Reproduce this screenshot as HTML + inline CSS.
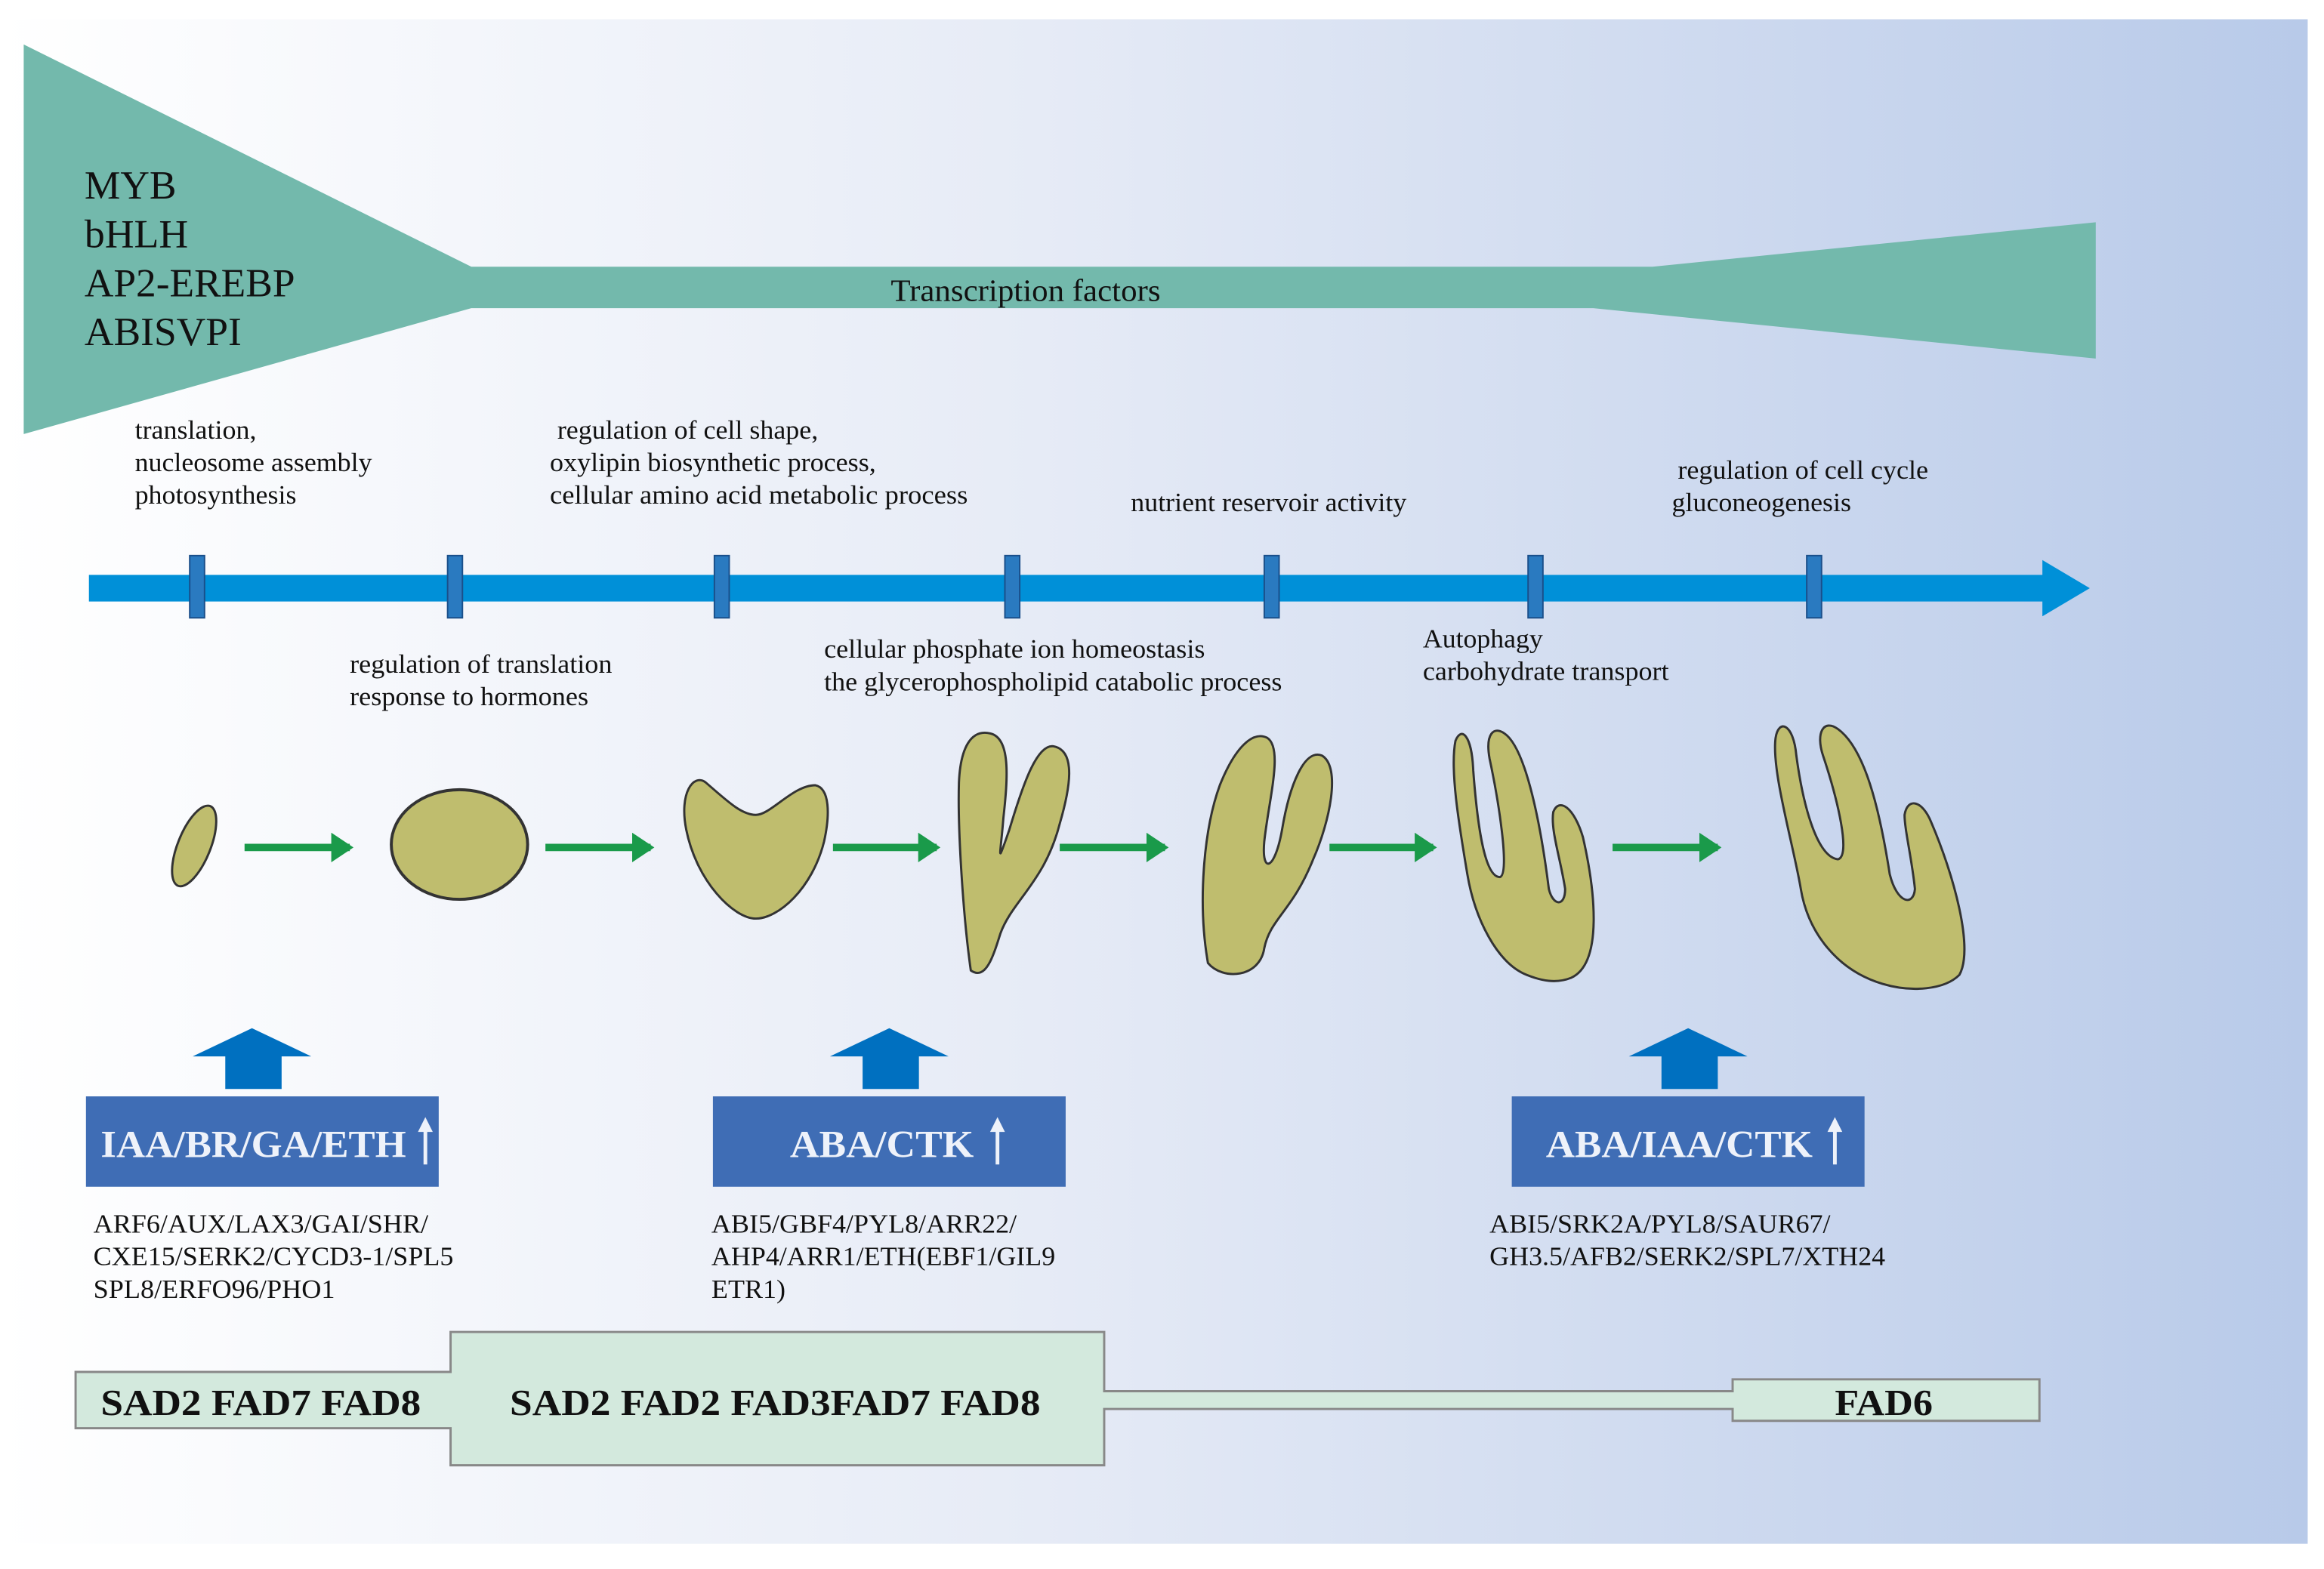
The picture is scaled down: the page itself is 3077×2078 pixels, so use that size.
<!DOCTYPE html>
<html><head><meta charset="utf-8"><style>
html,body{margin:0;padding:0;background:#fff;}
svg{display:block;}
text{font-family:"Liberation Serif","Times New Roman",serif;}
</style></head><body>
<svg width="3077" height="2078" viewBox="0 0 1568 1059" preserveAspectRatio="none" xmlns="http://www.w3.org/2000/svg">
<defs>
<linearGradient id="bg" x1="0" y1="0" x2="1" y2="0">
<stop offset="0" stop-color="#ffffff"/>
<stop offset="0.45" stop-color="#e6ebf6"/>
<stop offset="1" stop-color="#b8cae9"/>
</linearGradient>
<marker id="ga" markerWidth="4" markerHeight="4" refX="2.5" refY="2" orient="auto" markerUnits="strokeWidth">
<path d="M0,0 L3,2 L0,4 Z" fill="#1a9a4a"/>
</marker>
</defs>
<rect x="0" y="13" width="1557" height="1029" fill="url(#bg)"/>
<polygon points="16,30 318,180 1115,180 1414,150 1414,242 1075,208 318,208 16,293" fill="#73b9ac"/>
<g font-size="27" fill="#111" lengthAdjust="spacingAndGlyphs">
<text x="57" y="134" textLength="62" lengthAdjust="spacingAndGlyphs">MYB</text>
<text x="57" y="167" textLength="70" lengthAdjust="spacingAndGlyphs">bHLH</text>
<text x="57" y="200" textLength="142" lengthAdjust="spacingAndGlyphs">AP2-EREBP</text>
<text x="57" y="233" textLength="106" lengthAdjust="spacingAndGlyphs">ABISVPI</text>
</g>
<text x="601" y="203" font-size="21" fill="#111" textLength="182" lengthAdjust="spacingAndGlyphs">Transcription factors</text>

<g font-size="18" fill="#111">
<text x="91" y="296" textLength="82" lengthAdjust="spacingAndGlyphs">translation,</text>
<text x="91" y="318" textLength="160" lengthAdjust="spacingAndGlyphs">nucleosome assembly</text>
<text x="91" y="340" textLength="109" lengthAdjust="spacingAndGlyphs">photosynthesis</text>
<text x="376" y="296" textLength="176" lengthAdjust="spacingAndGlyphs">regulation of cell shape,</text>
<text x="371" y="318" textLength="220" lengthAdjust="spacingAndGlyphs">oxylipin biosynthetic process,</text>
<text x="371" y="340" textLength="282" lengthAdjust="spacingAndGlyphs">cellular amino acid metabolic  process</text>
<text x="763" y="345" textLength="186" lengthAdjust="spacingAndGlyphs">nutrient reservoir activity</text>
<text x="1132" y="323" textLength="169" lengthAdjust="spacingAndGlyphs">regulation of cell cycle</text>
<text x="1128" y="345" textLength="121" lengthAdjust="spacingAndGlyphs">gluconeogenesis</text>
<text x="236" y="454" textLength="177" lengthAdjust="spacingAndGlyphs">regulation of translation</text>
<text x="236" y="476" textLength="161" lengthAdjust="spacingAndGlyphs">response to hormones</text>
<text x="556" y="444" textLength="257" lengthAdjust="spacingAndGlyphs">cellular phosphate ion homeostasis</text>
<text x="556" y="466" textLength="309" lengthAdjust="spacingAndGlyphs">the glycerophospholipid catabolic process</text>
<text x="960" y="437" textLength="81" lengthAdjust="spacingAndGlyphs">Autophagy</text>
<text x="960" y="459" textLength="166" lengthAdjust="spacingAndGlyphs">carbohydrate transport</text>
</g>

<polygon points="60,388 1378,388 1378,378 1410,397 1378,416 1378,406 60,406" fill="#0090d8"/>
<g fill="#2a7ac0" stroke="#1a4f8a" stroke-width="1">
<rect x="128" y="375" width="10" height="42"/>
<rect x="302" y="375" width="10" height="42"/>
<rect x="482" y="375" width="10" height="42"/>
<rect x="678" y="375" width="10" height="42"/>
<rect x="853" y="375" width="10" height="42"/>
<rect x="1031" y="375" width="10" height="42"/>
<rect x="1219" y="375" width="10" height="42"/>
</g>

<g stroke="#1a9a4a" stroke-width="5" marker-end="url(#ga)">
<line x1="165" y1="572" x2="236" y2="572"/>
<line x1="368" y1="572" x2="439" y2="572"/>
<line x1="562" y1="572" x2="632" y2="572"/>
<line x1="715" y1="572" x2="786" y2="572"/>
<line x1="897" y1="572" x2="967" y2="572"/>
<line x1="1088" y1="572" x2="1159" y2="572"/>
</g>

<g fill="#bfbd6e" stroke="#333" stroke-width="1.5">
<ellipse cx="131" cy="571" rx="11" ry="29" transform="rotate(22 131 571)"/>
<ellipse cx="310" cy="570" rx="46" ry="37" stroke-width="2"/>
<path d="M510,620 C495,620 470,595 463,560 C458,535 468,522 476,528 C490,540 500,550 510,550 C520,550 535,530 550,530 C560,532 560,550 556,568 C548,600 525,620 510,620 Z"/>
<path d="M655,655 C650,620 646,560 647,528 C648,505 655,492 668,495 C682,498 680,525 677,552 C675,578 672,586 681,560 C690,530 700,500 712,504 C726,508 722,532 715,556 C705,595 683,608 675,630 C670,646 665,662 655,655 Z"/>
<path d="M815,650 C808,610 812,560 823,530 C833,505 845,493 855,498 C866,505 856,540 853,568 C851,590 860,588 865,560 C870,530 880,505 892,510 C905,518 897,555 886,580 C872,615 857,620 853,640 C850,660 825,662 815,650 Z"/>
<path d="M1030,658 C1010,650 995,620 990,590 C985,560 978,520 982,500 C986,490 993,496 994,520 C997,560 1002,592 1012,592 C1019,590 1011,540 1005,512 C1002,495 1008,490 1015,495 C1030,505 1040,560 1045,600 C1048,612 1056,612 1056,600 C1053,580 1046,560 1048,548 C1052,538 1062,545 1068,565 C1076,600 1082,650 1060,660 C1050,664 1040,662 1030,658 Z"/>
<path d="M1270,664 C1240,655 1220,630 1215,600 C1210,570 1195,520 1198,498 C1200,485 1210,488 1212,510 C1216,540 1225,578 1240,580 C1249,578 1240,540 1230,510 C1225,495 1230,485 1240,492 C1258,505 1268,545 1275,590 C1280,610 1291,612 1292,600 C1290,580 1285,560 1285,550 C1287,538 1297,540 1303,555 C1318,590 1332,640 1322,658 C1312,668 1290,670 1270,664 Z"/>
</g>

<g fill="#0070c0">
<polygon points="130,713 170,694 210,713 190,713 190,735 152,735 152,713"/>
<polygon points="560,713 600,694 640,713 620,713 620,735 582,735 582,713"/>
<polygon points="1099,713 1139,694 1179,713 1159,713 1159,735 1121,735 1121,713"/>
</g>
<g fill="#3f6db5">
<rect x="58" y="740" width="238" height="61"/>
<rect x="481" y="740" width="238" height="61"/>
<rect x="1020" y="740" width="238" height="61"/>
</g>
<g fill="#eef2fa" font-size="26" font-weight="bold">
<text x="68" y="781" textLength="206" lengthAdjust="spacingAndGlyphs">IAA/BR/GA/ETH</text>
<text x="533" y="781" textLength="124" lengthAdjust="spacingAndGlyphs">ABA/CTK</text>
<text x="1043" y="781" textLength="180" lengthAdjust="spacingAndGlyphs">ABA/IAA/CTK</text>
</g>
<g stroke="#eef2fa" stroke-width="2.5" fill="#eef2fa">
<line x1="287" y1="786" x2="287" y2="762"/><polygon points="282,764 287,754 292,764" stroke="none"/>
<line x1="673" y1="786" x2="673" y2="762"/><polygon points="668,764 673,754 678,764" stroke="none"/>
<line x1="1238" y1="786" x2="1238" y2="762"/><polygon points="1233,764 1238,754 1243,764" stroke="none"/>
</g>

<g font-size="18" fill="#111">
<text x="63" y="832" textLength="226" lengthAdjust="spacingAndGlyphs">ARF6/AUX/LAX3/GAI/SHR/</text>
<text x="63" y="854" textLength="243" lengthAdjust="spacingAndGlyphs">CXE15/SERK2/CYCD3-1/SPL5</text>
<text x="63" y="876" textLength="163" lengthAdjust="spacingAndGlyphs">SPL8/ERFO96/PHO1</text>
<text x="480" y="832" textLength="206" lengthAdjust="spacingAndGlyphs">ABI5/GBF4/PYL8/ARR22/</text>
<text x="480" y="854" textLength="232" lengthAdjust="spacingAndGlyphs">AHP4/ARR1/ETH(EBF1/GIL9</text>
<text x="480" y="876" textLength="50" lengthAdjust="spacingAndGlyphs">ETR1)</text>
<text x="1005" y="832" textLength="230" lengthAdjust="spacingAndGlyphs">ABI5/SRK2A/PYL8/SAUR67/</text>
<text x="1005" y="854" textLength="267" lengthAdjust="spacingAndGlyphs">GH3.5/AFB2/SERK2/SPL7/XTH24</text>
</g>

<polygon points="51,926 304,926 304,899 745,899 745,939 1169,939 1169,931 1376,931 1376,959 1169,959 1169,951 745,951 745,989 304,989 304,964 51,964" fill="#d3e9dd" stroke="#888" stroke-width="1.5"/>
<g font-size="25" font-weight="bold" fill="#111">
<text x="68" y="955" textLength="216" lengthAdjust="spacingAndGlyphs">SAD2 FAD7 FAD8</text>
<text x="344" y="955" textLength="358" lengthAdjust="spacingAndGlyphs">SAD2 FAD2 FAD3FAD7 FAD8</text>
<text x="1238" y="955" textLength="66" lengthAdjust="spacingAndGlyphs">FAD6</text>
</g>
</svg>
</body></html>
